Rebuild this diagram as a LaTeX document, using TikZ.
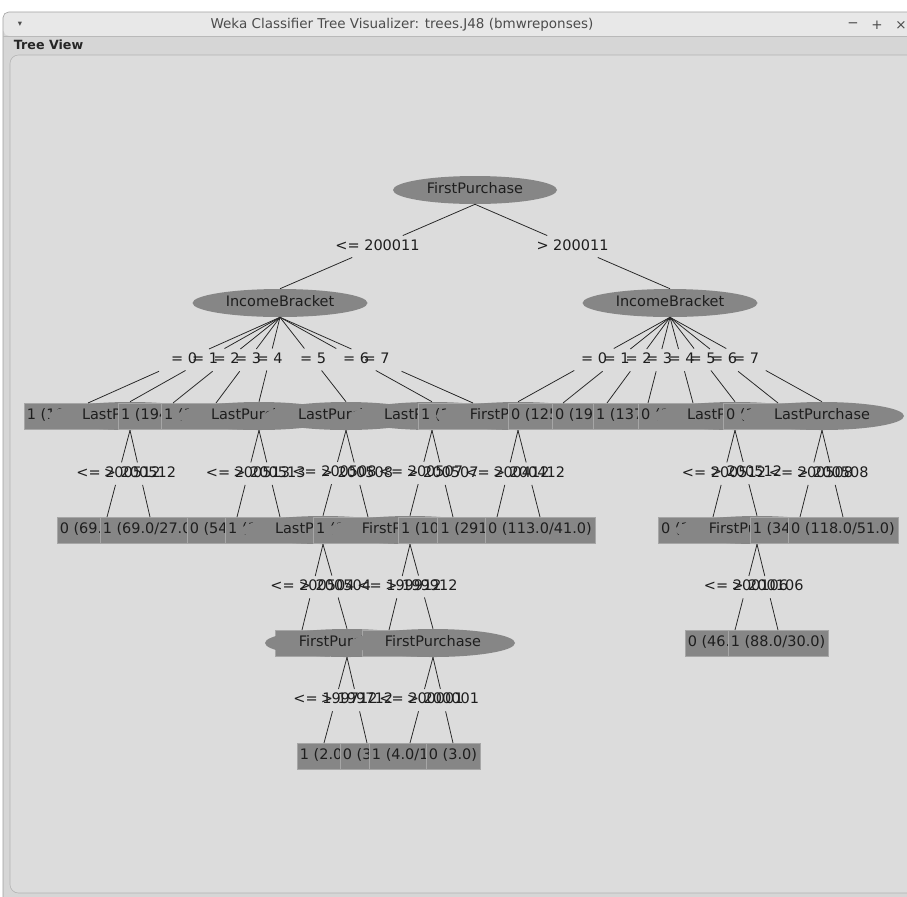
\documentclass[tikz,border=0pt]{standalone}
\usepackage{fontspec}
\setmainfont{DejaVu Sans}
\usepackage{tikz}
\usetikzlibrary{shapes,calc}

\definecolor{panelgrey}{RGB}{220,220,220}
\definecolor{framegrey}{RGB}{214,214,214}
\definecolor{bargrey}{RGB}{232,232,232}
\definecolor{nodegrey}{RGB}{134,134,134}
\definecolor{inkgrey}{RGB}{30,30,30}

\newcommand{\treefont}{\fontsize{10.3}{12}\selectfont}

\tikzstyle{attr}=[ellipse,fill=nodegrey,inner sep=0pt,minimum width=41mm,minimum height=7mm,text=inkgrey,text height=7.4pt,text depth=2.2pt,font=\treefont]
\tikzstyle{wideattr}=[attr,minimum width=43.75mm]
\tikzstyle{leaf}=[rectangle,fill=nodegrey,draw=gray!70,line width=0.3pt,inner xsep=0.75mm,inner ysep=0pt,minimum height=6.4mm,text=inkgrey,text height=7.4pt,text depth=2.2pt,font=\treefont]
\tikzstyle{test}=[inner sep=0pt,text=inkgrey,text height=7.4pt,text depth=2.2pt,font=\treefont]
\tikzstyle{split}=[draw,black!85,line width=0.55pt]
\tikzstyle{chrome}=[font=\fontsize{9.6}{11}\selectfont,text=black!70]

% edge cut open around its test label
\newcommand{\branch}[3]{%
	\path[split] (#1.south) -- ($(#1.south)!0.37!(#2.north)$);
	\path[split] ($(#1.south)!0.63!(#2.north)$) -- (#2.north);
	\node[test] at ($(#1.south)!0.5!(#2.north)$) {#3};}

\begin{document}
\begin{tikzpicture}[x=0.25mm,y=-0.25mm]

	\useasboundingbox (0,0) rectangle (907,896);
	\fill[white] (0,0) rectangle (907,896);

% % % window
	\path[draw=gray!75,fill=framegrey,rounded corners=4] (3,12) rectangle (930,920);
	\path[fill=bargrey,rounded corners=4] (3.5,12.5) rectangle (929,36);
	\path[draw=gray!55] (3,36) -- (930,36);

	\node[chrome] (ttl) at (402,25) {Weka Classifier Tree Visualizer: trees.J48 (bmwreponses)};
	\node[chrome,font=\fontsize{6}{7}\selectfont] (mnu) at (20,24) {▾};
	\node[chrome] (mn) at (853,25) {−};
	\node[chrome] (mx) at (877,25) {+};
	\node[chrome] (cl) at (901,25) {×};
	\node[chrome,font=\fontsize{9}{10}\selectfont\bfseries,text=black!85,anchor=west] (tv) at (9,45) {Tree View};

	\path[draw=gray!60,fill=panelgrey,rounded corners=6] (10,55) rectangle (925,893);

% % % root and income brackets
	\node[attr] (fp) at (475,190) {FirstPurchase};
	\node[wideattr] (ibl) at (280,303) {IncomeBracket};
	\node[wideattr] (ibr) at (670,303) {IncomeBracket};

% % % second row
	\node[leaf] (l0) at (88,416) {1 (1017.0/433.0)};
	\node[attr] (l1) at (130,416) {LastPurchase};
	\node[leaf] (l2) at (173,416) {1 (194.0/83.0)};
	\node[leaf] (l3) at (216,416) {1 (152.0/67.0)};
	\node[attr] (l4) at (259,416) {LastPurchase};
	\node[attr] (l5) at (346,416) {LastPurchase};
	\node[attr] (l6) at (432,416) {LastPurchase};
	\node[leaf] (l7) at (473,416) {1 (141.0/13.0)};
	\node[attr] (r0) at (518,416) {FirstPurchase};
	\node[leaf] (r1) at (563,416) {0 (125.0/52.0)};
	\node[leaf] (r2) at (607,416) {0 (196.0/88.0)};
	\node[leaf] (r3) at (648,416) {1 (137.0/64.0)};
	\node[leaf] (r4) at (693,416) {0 (108.0/47.0)};
	\node[attr] (r5) at (735,416) {LastPurchase};
	\node[leaf] (r6) at (778,416) {0 (102.0/45.0)};
	\node[attr] (r7) at (822,416) {LastPurchase};

% % % third row
	\node[leaf] (l1a) at (107,530) {0 (69.0/21.0)};
	\node[leaf] (l1b) at (150,530) {1 (69.0/27.0)};
	\node[leaf] (l4a) at (237,530) {0 (54.0/19.0)};
	\node[leaf] (l4b) at (280,530) {1 (113.0/52.0)};
	\node[attr] (l5a) at (323,530) {LastPurchase};
	\node[leaf] (l5b) at (368,530) {1 (102.0/49.0)};
	\node[attr] (l6a) at (410,530) {FirstPurchase};
	\node[leaf] (l6b) at (453,530) {1 (104.0/46.0)};
	\node[leaf] (r0a) at (497,530) {1 (291.0/127.0)};
	\node[leaf] (r0b) at (540,530) {0 (113.0/41.0)};
	\node[leaf] (r5a) at (713,530) {0 (121.0/58.0)};
	\node[attr] (r5b) at (757,530) {FirstPurchase};
	\node[leaf] (r7a) at (800,530) {1 (34.0/12.0)};
	\node[leaf] (r7b) at (843,530) {0 (118.0/51.0)};

% % % fourth row
	\node[leaf] (l5aa) at (302,643) {1 (6.0)};
	\node[attr] (l5ab) at (347,643) {FirstPurchase};
	\node[leaf] (l6aa) at (389,643) {0 (4.0)};
	\node[attr] (l6ab) at (433,643) {FirstPurchase};
	\node[leaf] (r5ba) at (735,643) {0 (46.0/17.0)};
	\node[leaf] (r5bb) at (778,643) {1 (88.0/30.0)};

% % % fifth row
	\node[leaf] (l5aba) at (324,756) {1 (2.0)};
	\node[leaf] (l5abb) at (367,756) {0 (3.0)};
	\node[leaf] (l6aba) at (410,756) {1 (4.0/1.0)};
	\node[leaf] (l6abb) at (453,756) {0 (3.0)};

% % % branches
	\branch{fp}{ibl}{<= 200011}
	\branch{fp}{ibr}{> 200011}

	\branch{ibl}{l0}{= 0}
	\branch{ibl}{l1}{= 1}
	\branch{ibl}{l2}{= 2}
	\branch{ibl}{l3}{= 3}
	\branch{ibl}{l4}{= 4}
	\branch{ibl}{l5}{= 5}
	\branch{ibl}{l6}{= 6}
	\branch{ibl}{l7}{= 7}

	\branch{ibr}{r0}{= 0}
	\branch{ibr}{r1}{= 1}
	\branch{ibr}{r2}{= 2}
	\branch{ibr}{r3}{= 3}
	\branch{ibr}{r4}{= 4}
	\branch{ibr}{r5}{= 5}
	\branch{ibr}{r6}{= 6}
	\branch{ibr}{r7}{= 7}

	\branch{l1}{l1a}{<= 200512}
	\branch{l1}{l1b}{> 200512}
	\branch{l4}{l4a}{<= 200513}
	\branch{l4}{l4b}{> 200513}
	\branch{l5}{l5a}{<= 200508}
	\branch{l5}{l5b}{> 200508}
	\branch{l6}{l6a}{<= 200507}
	\branch{l6}{l6b}{> 200507}
	\branch{r0}{r0a}{<= 200412}
	\branch{r0}{r0b}{> 200412}
	\branch{r5}{r5a}{<= 200512}
	\branch{r5}{r5b}{> 200512}
	\branch{r7}{r7a}{<= 200508}
	\branch{r7}{r7b}{> 200508}

	\branch{l5a}{l5aa}{<= 200504}
	\branch{l5a}{l5ab}{> 200504}
	\branch{l6a}{l6aa}{<= 199912}
	\branch{l6a}{l6ab}{> 199912}
	\branch{r5b}{r5ba}{<= 200106}
	\branch{r5b}{r5bb}{> 200106}

	\branch{l5ab}{l5aba}{<= 199712}
	\branch{l5ab}{l5abb}{> 199712}
	\branch{l6ab}{l6aba}{<= 200001}
	\branch{l6ab}{l6abb}{> 200001}

\end{tikzpicture}
\end{document}
